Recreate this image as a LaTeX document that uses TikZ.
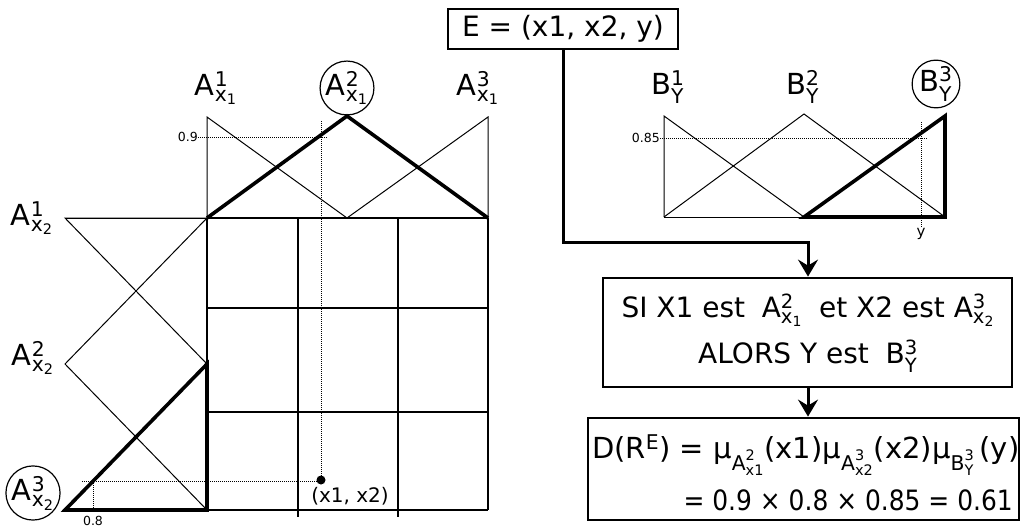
\documentclass[tikz,border=0pt]{standalone}
\usepackage{fontspec}
\usepackage{amsmath}
\usepackage{graphicx}
\setmainfont{DejaVu Sans}
\usetikzlibrary{arrows.meta}
\newcommand{\tx}[1]{\text{#1}}
\newcommand{\Ax}[2]{A$^{\tx{#1}}_{\tx{x}_{\tx{#2}}}$}
\newcommand{\By}[1]{B$^{\tx{#1}}_{\tx{Y}}$}
\begin{document}
\begin{tikzpicture}[x=1pt,y=-1pt,
 thinl/.style={line width=1pt},
 bold/.style={line width=3.6pt,line join=miter},
 gridl/.style={line width=1.4pt},
 dotl/.style={line width=1pt,dash pattern=on 1pt off 1pt},
 box/.style={draw,line width=2.8pt,inner sep=0pt},
 lab/.style={font=\fontsize{29}{32}\selectfont,inner sep=0pt},
 circ/.style={circle,draw,line width=1.2pt,minimum size=50pt,inner sep=0pt},
 small/.style={font=\fontsize{12.5}{14}\selectfont,inner sep=0pt},
 txt/.style={font=\fontsize{28}{32}\selectfont,inner sep=0pt},
 conn/.style={line width=3pt,-{Stealth[length=17pt,width=20pt,inset=6pt]}}]
\useasboundingbox[fill=white] (0,0) rectangle (1021,527);

% ---- X1 fuzzy sets (top) ----
\draw[thinl] (207,218) -- (207,117) -- (347,218);
\draw[thinl] (347,218) -- (488,117) -- (488,218);
\draw[bold] (207,218) -- (347,116) -- (488,218);
\draw[thinl] (65,218) -- (207,218);

% ---- X2 fuzzy sets (left) ----
\draw[thinl] (207,218) -- (65,218) -- (207,364);
\draw[thinl] (207,218) -- (65,364) -- (207,510);
\draw[bold] (207,364) -- (65,510) -- (207,510) -- cycle;

% ---- grid ----
\draw[gridl] (207,218) -- (207,510);
\draw[gridl] (298,218) -- (298,517);
\draw[gridl] (398,218) -- (398,517);
\draw[gridl] (488,218) -- (488,510);
\draw[gridl] (207,218) -- (488,218);
\draw[gridl] (207,308) -- (488,308);
\draw[gridl] (207,412) -- (488,412);
\draw[gridl] (207,510) -- (488,510);

% ---- dotted projections ----
\draw[dotl] (321,121) -- (321,480);
\draw[dotl] (198,137) -- (328,137);
\draw[dotl] (82,481) -- (321,481);
\draw[dotl] (93,481) -- (93,512);
\node[circle,fill,inner sep=0pt,minimum size=9pt] (pt) at (321,480) {};
\node[font=\fontsize{20}{24}\selectfont,inner sep=0pt] (ptl) at (350,496) {(x1, x2)};
\node[small,anchor=east] (v09) at (198,137) {0.9};
\node[small] (v08) at (93,521) {0.8};

% ---- labels of A sets ----
\node[lab] (ax11) at (216,88) {\Ax{1}{1}};
\node[lab,circ] (ax12) at (347,88) {\Ax{2}{1}};
\node[lab] (ax13) at (478,88) {\Ax{3}{1}};
\node[lab] (ax21) at (32,218) {\Ax{1}{2}};
\node[lab] (ax22) at (33,358) {\Ax{2}{2}};
\node[lab,circ] (ax23) at (33,493) {\Ax{3}{2}};

% ---- Y fuzzy sets ----
\draw[thinl] (664,217) -- (664,116) -- (804,217);
\draw[thinl] (664,217) -- (804,114) -- (945,217);
\draw[thinl] (664,217) -- (804,217);
\draw[bold] (804,217) -- (945,116) -- (945,217) -- cycle;
\draw[dotl] (660,138) -- (927,138);
\draw[dotl] (921,122) -- (921,228);
\node[small,anchor=east] (v085) at (660,138) {0.85};
\node[font=\fontsize{15}{17}\selectfont,inner sep=0pt] (yl) at (921,234) {y};
\node[lab] (by1) at (668,87) {\By{1}};
\node[lab] (by2) at (803,87) {\By{2}};
\node[lab,circ,minimum size=47pt] (by3) at (936,84) {\By{3}};

% ---- boxes ----
\node[box,txt,minimum width=230pt,minimum height=40pt] (E) at (563,29) {E = (x1, x2, y)};
\node[box,minimum width=409pt,minimum height=109pt] (rule) at (807.5,332.5) {};
\node[txt] (r1) at (808,310) {SI X1 est \;\Ax{2}{1}\; et X2 est \Ax{3}{2}};
\node[txt] (r2) at (808,356) {ALORS Y est \;\By{3}};
\node[box,minimum width=431pt,minimum height=102pt] (form) at (803.5,469) {};
\node[txt,font=\fontsize{29}{32}\selectfont,anchor=west] (f1) at (592,455) {D(R$^{\tx{E}}$) = \tx{μ}$_{\tx{A}^{\tx{2}}_{\tx{x1}}}$(x1)\tx{μ}$_{\tx{A}^{\tx{3}}_{\tx{x2}}}$(x2)\tx{μ}$_{\tx{B}^{\tx{3}}_{\tx{Y}}}$\,(y)};
\node[txt,anchor=east] (f2) at (1013,500) {\scalebox{0.89}[1]{= 0.9 × 0.8 × 0.85 = 0.61}};

% ---- connectors ----
\coordinate (turn) at (808,242);
\draw[conn] (E.south) |- (turn) -- (turn |- rule.north);
\draw[conn] (turn |- rule.south) -- (turn |- form.north);
\end{tikzpicture}
\end{document}
